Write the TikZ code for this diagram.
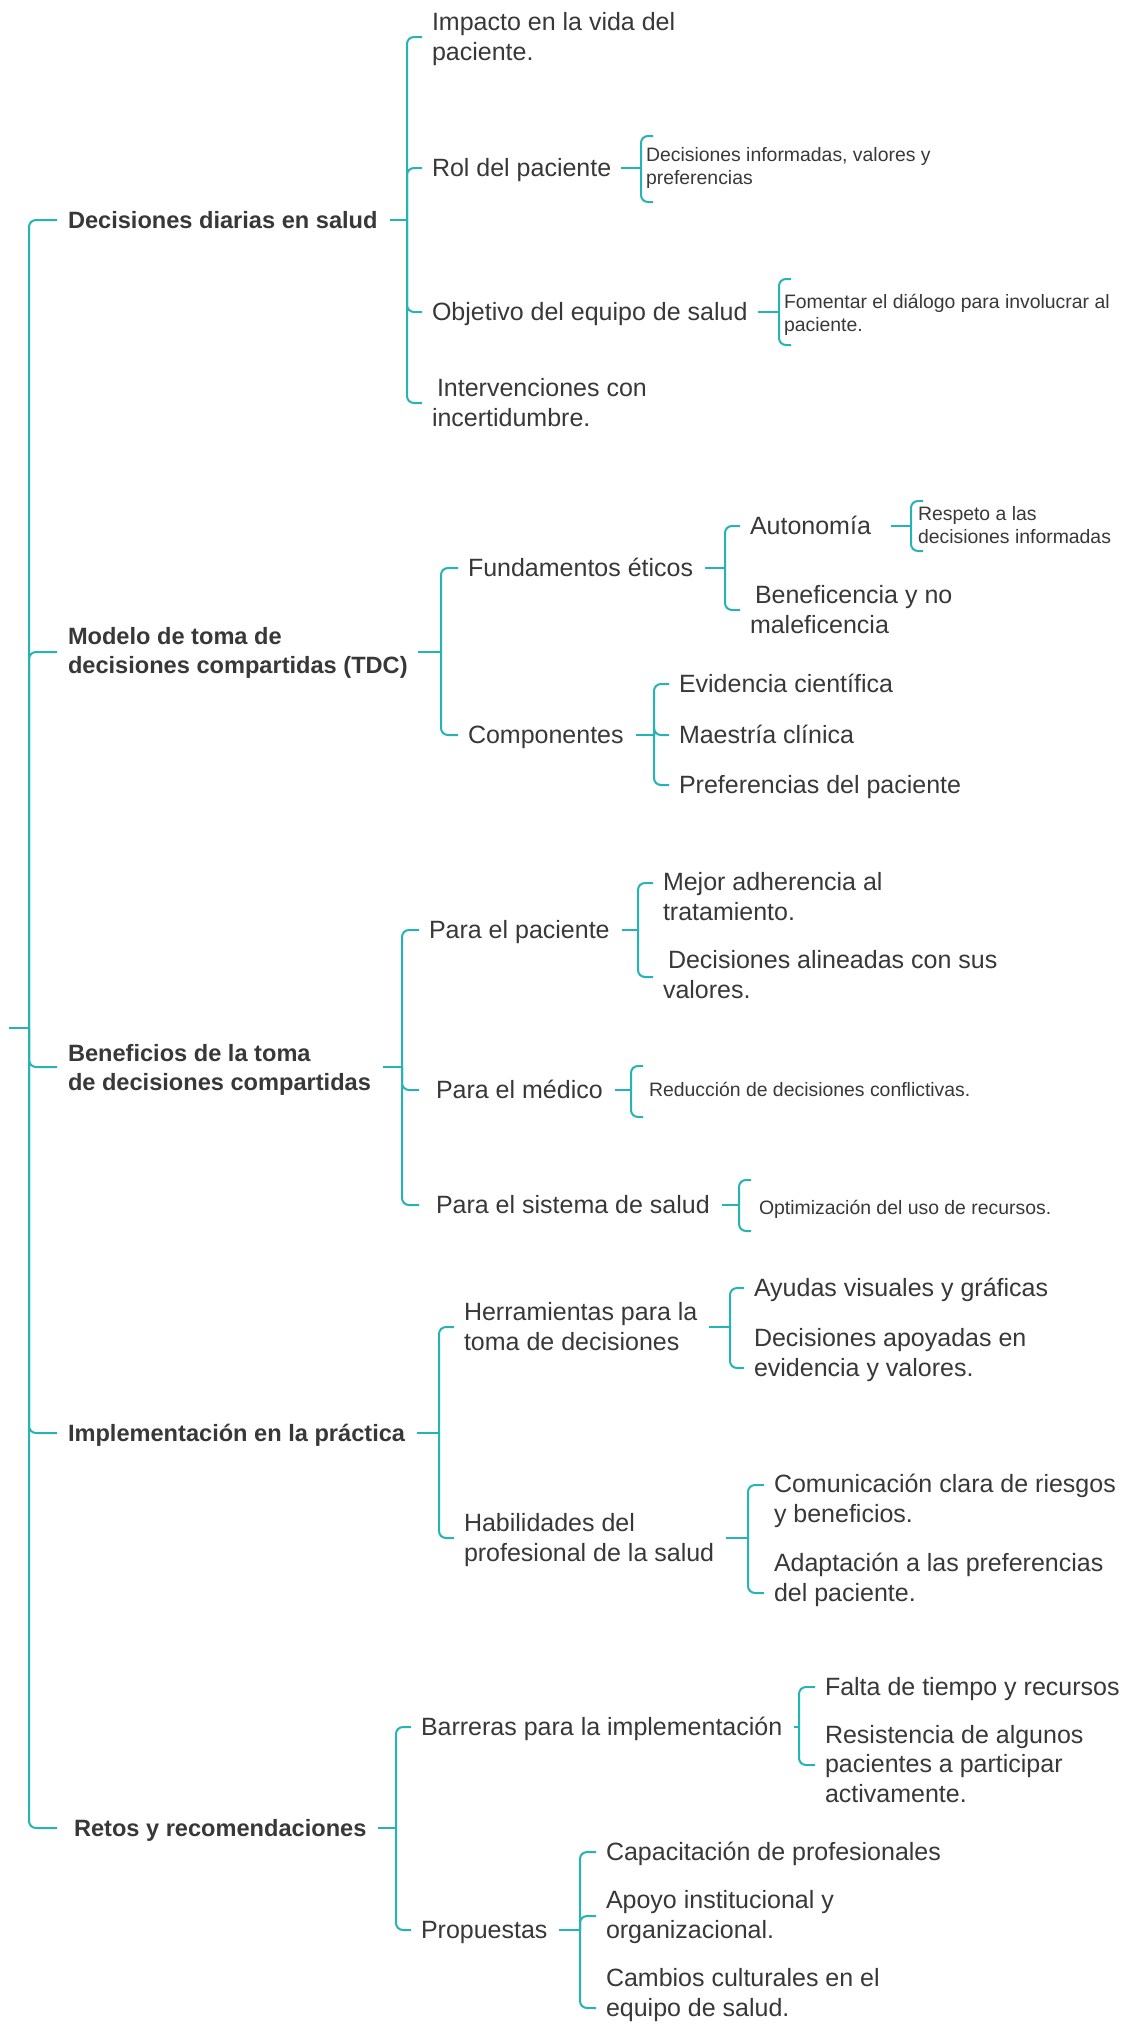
\documentclass[tikz,border=0pt]{standalone}
\usepackage{fontspec}
\setmainfont{Liberation Sans}
\definecolor{lnkc}{HTML}{26B3B5}
\definecolor{txtc}{HTML}{383838}
\newcommand\freg{\fontsize{12.5}{14.6}\selectfont}
\newcommand\fbld{\fontsize{11.8}{14.3}\selectfont\bfseries}
\newcommand\fsml{\fontsize{9.7}{11.3}\selectfont}
\tikzset{
  lnk/.style={draw=lnkc, line width=1pt, rounded corners=3.5pt},
  txreg/.style={anchor=base west, inner sep=0pt, outer sep=0pt, align=left, text=txtc, font=\freg},
  txbold/.style={txreg, font=\fbld},
  txsmall/.style={txreg, font=\fsml}
}
\begin{document}
\begin{tikzpicture}[x=0.5pt,y=-0.5pt]
\fill[white] (0,0) rectangle (1120,2034);
\useasboundingbox (0,0) rectangle (1120,2034);

% multi-line nodes: base anchor = baseline of last line

% ---------- level 1 ----------
\node[txbold] (n1) at (68,228) {Decisiones diarias en salud};
\node[txbold] (n2) at (68,673) {Modelo de toma de\\decisiones compartidas (TDC)};
\node[txbold] (n3) at (68,1090) {Beneficios de la toma\\de decisiones compartidas};
\node[txbold] (n4) at (68,1441) {Implementación en la práctica};
\node[txbold] (n5) at (68,1836) {\kern3pt Retos y recomendaciones};

\coordinate (root) at (29,1028);
\coordinate (rootstub) at (9,1028);
\coordinate (a1) at (57,220);
\coordinate (a2) at (57,652);
\coordinate (a3) at (57,1067);
\coordinate (a4) at (57,1433);
\coordinate (a5) at (57,1828);
\draw[lnk] (rootstub) -- (root);
\foreach \a in {a1,a2,a3,a4,a5} \draw[lnk] (root) |- (\a);

% ---------- branch 1 ----------
\coordinate (j1) at (407,220);
\draw[lnk] (n1.east |- j1) ++(6pt,0) -- (j1);
\node[txreg] (n11) at (432,60) {Impacto en la vida del\\paciente.};
\node[txreg] (n12) at (432,176) {Rol del paciente};
\node[txreg] (n13) at (432,320) {Objetivo del equipo de salud};
\node[txreg] (n14) at (432,426) {\kern2.5pt Intervenciones con\\incertidumbre.};
\coordinate (a11) at (422,37);
\coordinate (a12) at (422,168);
\coordinate (a13) at (422,312);
\coordinate (a14) at (422,403);
\foreach \a in {a11,a12,a13,a14} \draw[lnk] (j1) |- (\a);

\coordinate (j12) at (641,168);
\draw[lnk] (n12.east |- j12) ++(5pt,0) -- (j12);
\draw[lnk] (653,136) -- (641,136) -- (641,202) -- (653,202);
\node[txsmall] (n121) at (646,184) {Decisiones informadas, valores y\\preferencias};

\coordinate (j13) at (779,312);
\draw[lnk] (n13.east |- j13) ++(5pt,0) -- (j13);
\draw[lnk] (791,279) -- (779,279) -- (779,345) -- (791,345);
\node[txsmall] (n131) at (784,331) {Fomentar el diálogo para involucrar al\\paciente.};

% ---------- branch 2 ----------
\coordinate (j2) at (441,652);
\draw[lnk] (n2.east |- j2) ++(5pt,0) -- (j2);
\node[txreg] (n21) at (468,576) {Fundamentos éticos};
\node[txreg] (n22) at (468,743) {Componentes};
\coordinate (a21) at (458,568);
\coordinate (a22) at (458,735);
\foreach \a in {a21,a22} \draw[lnk] (j2) |- (\a);

\coordinate (j21) at (725,568);
\draw[lnk] (n21.east |- j21) ++(6pt,0) -- (j21);
\node[txreg] (n211) at (750,534) {Autonomía};
\node[txreg] (n212) at (750,633) {\kern2.5pt Beneficencia y no\\maleficencia};
\coordinate (a211) at (740,526);
\coordinate (a212) at (740,610);
\foreach \a in {a211,a212} \draw[lnk] (j21) |- (\a);

\coordinate (j211) at (911,526);
\draw[lnk] (n211.east |- j211) ++(10pt,0) -- (j211);
\draw[lnk] (923,501) -- (911,501) -- (911,551) -- (923,551);
\node[txsmall] (n2111) at (918,543) {Respeto a las\\decisiones informadas};

\coordinate (j22) at (654,735);
\draw[lnk] (n22.east |- j22) ++(6pt,0) -- (j22);
\node[txreg] (n221) at (679,692) {Evidencia científica};
\node[txreg] (n222) at (679,743) {Maestría clínica};
\node[txreg] (n223) at (679,793) {Preferencias del paciente};
\coordinate (a221) at (669,684);
\coordinate (a222) at (669,735);
\coordinate (a223) at (669,785);
\foreach \a in {a221,a222,a223} \draw[lnk] (j22) |- (\a);

% ---------- branch 3 ----------
\coordinate (j3) at (402,1067);
\draw[lnk] (n3.east |- j3) ++(6pt,0) -- (j3);
\node[txreg] (n31) at (429,938) {Para el paciente};
\node[txreg] (n32) at (429,1098) {\kern3.5pt Para el médico};
\node[txreg] (n33) at (429,1213) {\kern3.5pt Para el sistema de salud};
\coordinate (a31) at (419,930);
\coordinate (a32) at (419,1090);
\coordinate (a33) at (419,1205);
\foreach \a in {a31,a32,a33} \draw[lnk] (j3) |- (\a);

\coordinate (j31) at (638,930);
\draw[lnk] (n31.east |- j31) ++(6pt,0) -- (j31);
\node[txreg] (n311) at (663,920) {Mejor adherencia al\\tratamiento.};
\node[txreg] (n312) at (663,998) {\kern2.5pt Decisiones alineadas con sus\\valores.};
\coordinate (a311) at (653,883);
\coordinate (a312) at (653,977);
\foreach \a in {a311,a312} \draw[lnk] (j31) |- (\a);

\coordinate (j32) at (631,1090);
\draw[lnk] (n32.east |- j32) ++(6pt,0) -- (j32);
\draw[lnk] (643,1066) -- (631,1066) -- (631,1117) -- (643,1117);
\node[txsmall] (n321) at (649,1096) {Reducción de decisiones conflictivas.};

\coordinate (j33) at (739,1205);
\draw[lnk] (n33.east |- j33) ++(6pt,0) -- (j33);
\draw[lnk] (751,1180) -- (739,1180) -- (739,1231) -- (751,1231);
\node[txsmall] (n331) at (759,1214) {Optimización del uso de recursos.};

% ---------- branch 4 ----------
\coordinate (j4) at (439,1433);
\draw[lnk] (n4.east |- j4) ++(6pt,0) -- (j4);
\node[txreg] (n41) at (464,1350) {Herramientas para la\\toma de decisiones};
\node[txreg] (n42) at (464,1561) {Habilidades del\\profesional de la salud};
\coordinate (a41) at (454,1327);
\coordinate (a42) at (454,1538);
\foreach \a in {a41,a42} \draw[lnk] (j4) |- (\a);

\coordinate (j41) at (730,1327);
\draw[lnk] (n41.east |- j41) ++(6pt,0) -- (j41);
\node[txreg] (n411) at (754,1296) {Ayudas visuales y gráficas};
\node[txreg] (n412) at (754,1376) {Decisiones apoyadas en\\evidencia y valores.};
\coordinate (a411) at (744,1288);
\coordinate (a412) at (744,1368);
\foreach \a in {a411,a412} \draw[lnk] (j41) |- (\a);

\coordinate (j42) at (748,1538);
\draw[lnk] (n42.east |- j42) ++(6pt,0) -- (j42);
\node[txreg] (n421) at (774,1522) {Comunicación clara de riesgos\\y beneficios.};
\node[txreg] (n422) at (774,1601) {Adaptación a las preferencias\\del paciente.};
\coordinate (a421) at (764,1485);
\coordinate (a422) at (764,1593);
\foreach \a in {a421,a422} \draw[lnk] (j42) |- (\a);

% ---------- branch 5 ----------
\coordinate (j5) at (396,1828);
\draw[lnk] (n5.east |- j5) ++(6pt,0) -- (j5);
\node[txreg] (n51) at (421,1735) {Barreras para la implementación};
\node[txreg] (n52) at (421,1938) {Propuestas};
\coordinate (a51) at (411,1727);
\coordinate (a52) at (411,1930);
\foreach \a in {a51,a52} \draw[lnk] (j5) |- (\a);

\coordinate (j51) at (799,1727);
\draw[lnk] (n51.east |- j51) ++(6pt,0) -- (j51);
\node[txreg] (n511) at (825,1695) {Falta de tiempo y recursos};
\node[txreg] (n512) at (825,1802) {Resistencia de algunos\\pacientes a participar\\activamente.};
\coordinate (a511) at (815,1687);
\coordinate (a512) at (815,1765);
\foreach \a in {a511,a512} \draw[lnk] (j51) |- (\a);

\coordinate (j52) at (580,1930);
\draw[lnk] (n52.east |- j52) ++(6pt,0) -- (j52);
\node[txreg] (n521) at (606,1860) {Capacitación de profesionales};
\node[txreg] (n522) at (606,1938) {Apoyo institucional y\\organizacional.};
\node[txreg] (n523) at (606,2016) {Cambios culturales en el\\equipo de salud.};
\coordinate (a521) at (596,1852);
\coordinate (a522) at (596,1916);
\coordinate (a523) at (596,2008);
\foreach \a in {a521,a522,a523} \draw[lnk] (j52) |- (\a);
\end{tikzpicture}
\end{document}
